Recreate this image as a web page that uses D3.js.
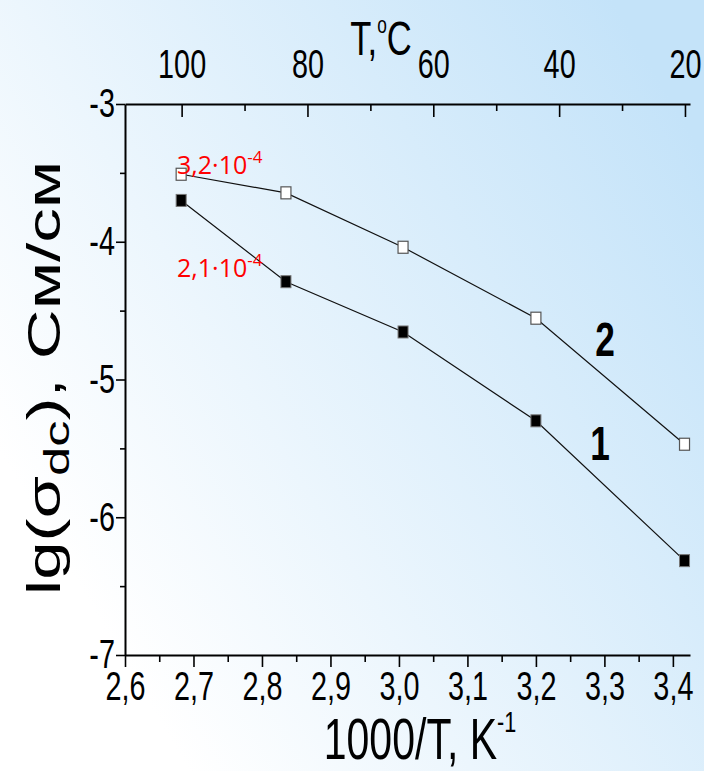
<!DOCTYPE html>
<html>
<head>
<meta charset="utf-8">
<script src="https://cdn.jsdelivr.net/npm/d3@7"></script>
<style>
  body { margin: 0; padding: 0; }
  svg { display: block; }
  .tick text { font-family: "Liberation Sans", Arial, sans-serif; fill: #000; }
</style>
</head>
<body>
<div id="chart"></div>
<script>
// 1000/T values (K^-1) of the measured temperatures
let invT = [2.682, 2.835, 3.006, 3.200, 3.417];
// lg(sigma_dc), curve 1 (filled squares) and curve 2 (open squares)
let curve1 = [-3.70, -4.29, -4.655, -5.30, -6.315];
let curve2 = [-3.51, -3.645, -4.04, -4.555, -5.47];

let xMajor = [2.6, 2.7, 2.8, 2.9, 3.0, 3.1, 3.2, 3.3, 3.4];
let xMinor = [2.65, 2.75, 2.85, 2.95, 3.05, 3.15, 3.25, 3.35];
let yMajor = [-7, -6, -5, -4, -3];
let yMinor = [-6.5, -5.5, -4.5, -3.5];
let tMajor = [100, 80, 60, 40, 20];
let tMinor = [90, 70, 50, 30];

let w = 704, h = 771;
let padL = 125, padR = 690, padT = 104, padB = 655;
let squeeze = "scale(0.72,1)";   // the source figure is horizontally squashed

let svg = d3.select("#chart").append("svg")
    .attr("width", w)
    .attr("height", h);

// background gradient
let grad = svg.append("defs").append("linearGradient")
    .attr("id", "bg")
    .attr("x1", "0").attr("y1", "0.85")
    .attr("x2", "1").attr("y2", "0.2");
grad.append("stop").attr("offset", "0.12").attr("stop-color", "#ffffff");
grad.append("stop").attr("offset", "1").attr("stop-color", "#c4e3f9");
svg.append("rect")
    .attr("width", w).attr("height", h)
    .attr("fill", "url(#bg)");

let xScale = d3.scaleLinear().domain([2.6, 3.425]).range([padL, padR]);
let yScale = d3.scaleLinear().domain([-7, -3]).range([padB, padT]);
// top axis in deg C, drawn linear as in the source figure
let tScale = d3.scaleLinear().domain([109, 19.2]).range([padL, padR]);

let comma = function(d) { return d3.format(".1f")(d).replace(".", ","); };
let plain = function(d) { return String(d); };

// bottom axis
let gx = svg.append("g").attr("transform", "translate(0," + padB + ")");
gx.call(d3.axisBottom(xScale).tickValues(xMajor).tickFormat(comma)
    .tickSize(12).tickSizeOuter(0).tickPadding(5));
gx.append("g").call(d3.axisBottom(xScale).tickValues(xMinor).tickFormat("")
    .tickSize(7).tickSizeOuter(0)).select(".domain").remove();

// left axis
let gy = svg.append("g").attr("transform", "translate(" + padL + ",0)");
gy.call(d3.axisLeft(yScale).tickValues(yMajor).tickFormat(plain)
    .tickSize(9).tickSizeOuter(0).tickPadding(5));
gy.append("g").call(d3.axisLeft(yScale).tickValues(yMinor).tickFormat("")
    .tickSize(5).tickSizeOuter(0)).select(".domain").remove();

// top axis, ticks inside
let gt = svg.append("g").attr("transform", "translate(0," + padT + ")");
gt.call(d3.axisTop(tScale).tickValues(tMajor).tickFormat(plain)
    .tickSize(-13).tickSizeOuter(0).tickPadding(26));
gt.append("g").call(d3.axisTop(tScale).tickValues(tMinor).tickFormat("")
    .tickSize(-7).tickSizeOuter(0)).select(".domain").remove();

svg.selectAll(".domain").attr("stroke", "#000").attr("stroke-width", 2);
svg.selectAll(".tick line").attr("stroke", "#000").attr("stroke-width", 1.6);
svg.selectAll(".tick text").style("font-size", "40px").attr("transform", squeeze);

// curves
let line = d3.line()
    .x(function(d) { return xScale(d[0]); })
    .y(function(d) { return yScale(d[1]); });

[curve1, curve2].forEach(function(c) {
    svg.append("path")
        .datum(d3.zip(invT, c))
        .attr("fill", "none")
        .attr("stroke", "#111")
        .attr("stroke-width", 1.2)
        .attr("d", line);
});

svg.selectAll(".m1").data(d3.zip(invT, curve1)).enter().append("rect")
    .attr("class", "m1")
    .attr("x", function(d) { return xScale(d[0]) - 5; })
    .attr("y", function(d) { return yScale(d[1]) - 6; })
    .attr("width", 10).attr("height", 12)
    .attr("fill", "#000").attr("stroke", "#777").attr("stroke-width", 1);

svg.selectAll(".m2").data(d3.zip(invT, curve2)).enter().append("rect")
    .attr("class", "m2")
    .attr("x", function(d) { return xScale(d[0]) - 5; })
    .attr("y", function(d) { return yScale(d[1]) - 6; })
    .attr("width", 10).attr("height", 12)
    .attr("fill", "#fff").attr("stroke", "#555").attr("stroke-width", 1.2);

// red value labels
function redLabel(x, y, base) {
    let t = svg.append("text")
        .attr("x", x).attr("y", y)
        .attr("fill", "#ff0000")
        .style("font-family", "'Open Sans', 'Liberation Sans', sans-serif")
        .style("font-size", "25px");
    t.append("tspan").text(base);
    t.append("tspan").attr("dy", -11).style("font-size", "17px").text("-4");
}
redLabel(177, 174, "3,2·10");
redLabel(177, 277, "2,1·10");

// curve numbers
function curveNum(x, y, s) {
    svg.append("text")
        .attr("transform", "translate(" + x + "," + y + ") " + squeeze)
        .attr("text-anchor", "middle")
        .style("font-family", "'Liberation Sans', Arial, sans-serif")
        .style("font-weight", "bold").style("font-size", "49px")
        .text(s);
}
curveNum(605, 356, "2");
curveNum(600, 460, "1");

// axis titles
let tt = svg.append("text")
    .attr("transform", "translate(381,55) " + squeeze)
    .attr("text-anchor", "middle")
    .style("font-family", "'Liberation Sans', Arial, sans-serif")
    .style("font-size", "48px");
tt.append("tspan").text("T,");
tt.append("tspan").attr("dy", -22).style("font-size", "24px").text("o");
tt.append("tspan").attr("dy", 22).text("C");

let bt = svg.append("text")
    .attr("transform", "translate(420,759) " + squeeze)
    .attr("text-anchor", "middle")
    .style("font-family", "'Liberation Sans', Arial, sans-serif")
    .style("font-size", "57px");
bt.append("tspan").text("1000/T, K");
bt.append("tspan").attr("dy", -27).style("font-size", "30px").text("-1");

let yt = svg.append("text")
    .attr("transform", "translate(60,378) rotate(-90) scale(1.5,1)")
    .attr("text-anchor", "middle")
    .style("font-family", "'Liberation Sans', Arial, sans-serif")
    .style("font-size", "46px");
yt.append("tspan").text("lg(σ");
yt.append("tspan").attr("dy", 9).style("font-size", "35px").text("dc");
yt.append("tspan").attr("dy", -9).text("),  См/см");
</script>
</body>
</html>
